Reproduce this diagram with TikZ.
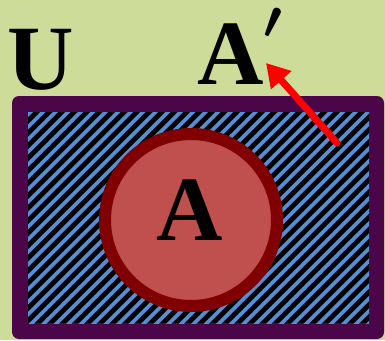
\documentclass[tikz,border=0pt]{standalone}
\usepackage{fontspec}
\setmainfont{Liberation Serif}
\usetikzlibrary{arrows.meta}
\definecolor{bg}{RGB}{205,220,152}
\definecolor{framec}{RGB}{74,6,72}
\definecolor{stripec}{RGB}{85,142,213}
\definecolor{ringc}{RGB}{128,0,0}
\definecolor{afill}{RGB}{192,80,77}
\definecolor{arrowc}{RGB}{255,0,0}
\tikzset{
  lbl/.style={inner sep=0pt, font=\fontsize{92}{92}\selectfont\bfseries},
  stripe/.style={draw=stripec, line width=3.6pt},
  ring/.style={draw=ringc, fill=afill, line width=12pt},
  arrowst/.style={draw=arrowc, line width=7pt, line cap=round, -{Triangle[length=23pt,width=26pt]}}
}
\newcommand{\bigprime}{\raisebox{46pt}{\scalebox{5.4}{\normalsize\boldmath$\prime$}}}
\begin{document}
\begin{tikzpicture}[x=1pt,y=-1pt]
\useasboundingbox (0,0) rectangle (385,340);
\fill[bg] (0,0) rectangle (385,340);
\fill[framec, rounded corners=7pt] (12,96) rectangle (384,339);
\begin{scope}
\clip (28,112) rectangle (369,323);
\fill[black] (28,112) rectangle (369,323);
\foreach \c in {130,142.5,...,710} \draw[stripe] (\c-340,340) -- (\c,0);
\end{scope}
\draw[ring] (191,220) circle[radius=86pt];
\node[lbl, anchor=base] (a) at (190,240) {A};
\node[lbl, anchor=base] (u) at (40.5,89) {U};
\node[lbl, anchor=base west] (ac) at (197,84) {A\bigprime};
\coordinate (tail) at (337,143);
\coordinate (tip) at (266,63);
\draw[arrowst] (tail) -- (tip);
\end{tikzpicture}
\end{document}
